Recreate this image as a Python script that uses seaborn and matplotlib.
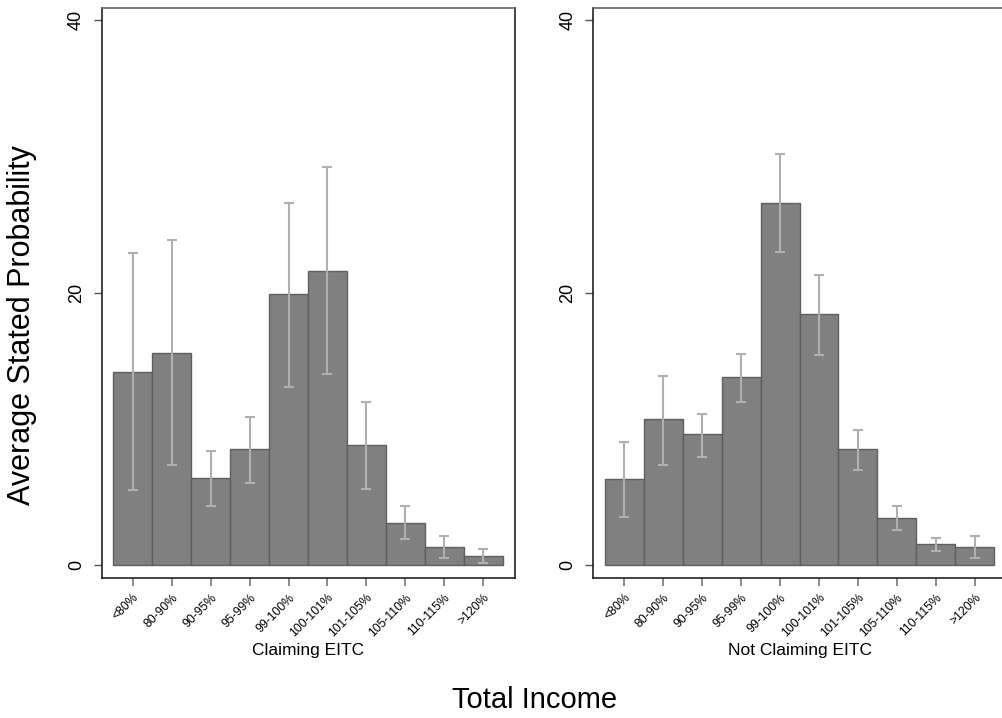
import numpy as np
import pandas as pd
import matplotlib
matplotlib.use("Agg")
import matplotlib.pyplot as plt
import seaborn as sns

categories = ["<80%", "80-90%", "90-95%", "95-99%", "99-100%", "100-101%",
              "101-105%", "105-110%", "110-115%", ">120%"]

claim_mean = [14.2, 15.6, 6.4, 8.5, 19.9, 21.6, 8.8, 3.1, 1.35, 0.7]
claim_lo = [5.5, 7.35, 4.3, 6.05, 13.1, 14.0, 5.6, 1.9, 0.55, 0.17]
claim_hi = [22.9, 23.9, 8.4, 10.9, 26.6, 29.2, 12.0, 4.3, 2.15, 1.2]

noclaim_mean = [6.3, 10.7, 9.6, 13.8, 26.6, 18.4, 8.5, 3.45, 1.55, 1.35]
noclaim_lo = [3.55, 7.35, 7.95, 12.0, 23.0, 15.4, 7.0, 2.6, 1.05, 0.55]
noclaim_hi = [9.05, 13.9, 11.1, 15.5, 30.2, 21.3, 9.9, 4.3, 2.0, 2.15]

panel_titles = ["Claiming EITC", "Not Claiming EITC"]
y_ticks = [0, 20, 40]

sns.set_theme(style="white")
plt.rcParams['font.family'] = ['Liberation Sans', 'DejaVu Sans']
plt.rcParams['text.color'] = 'black'
plt.rcParams['axes.labelcolor'] = 'black'
plt.rcParams['xtick.labelcolor'] = 'black'
plt.rcParams['ytick.labelcolor'] = 'black'

fig = plt.figure(figsize=(10.02, 7.18), dpi=100)
ax_w = 0.4125
ax_h = 0.7935
ax_b = 0.1954
axes = [fig.add_axes([0.1015, ax_b, ax_w, ax_h]),
        fig.add_axes([0.5921, ax_b, ax_w, ax_h])]

panels = [(claim_mean, claim_lo, claim_hi), (noclaim_mean, noclaim_lo, noclaim_hi)]

for ax, (means, lo, hi), title in zip(axes, panels, panel_titles):
    df = pd.DataFrame({"cat": categories, "val": means})
    sns.barplot(data=df, x="cat", y="val", order=categories, ax=ax,
                width=1.0, color="#808080", saturation=1,
                edgecolor="#5f5f5f", linewidth=1.0, errorbar=None)
    pos = np.arange(len(categories))
    m = np.array(means)
    yerr = np.vstack([m - np.array(lo), np.array(hi) - m])
    ax.errorbar(pos, m, yerr=yerr, fmt="none", ecolor="#b0b0b0",
                elinewidth=1.5, capsize=3.6, capthick=1.5, zorder=5)
    ax.set_xlim(-0.8, 9.82)
    ax.set_ylim(-0.93, 40.9)
    ax.set_yticks(y_ticks)
    ax.set_yticklabels([str(t) for t in y_ticks], rotation=90, va="center",
                       fontsize=13)
    ax.set_xticks(pos)
    ax.set_xticklabels(categories, rotation=45, ha="right",
                       rotation_mode="anchor", fontsize=8.8)
    ax.tick_params(axis="y", length=6, width=1, color="#555555", pad=6, left=True)
    ax.tick_params(axis="x", length=6, width=1.2, color="#777777", pad=4, bottom=True)
    ax.set_xlabel(title, fontsize=12.5, labelpad=2.5, color="black")
    ax.set_ylabel("")
    for s in ax.spines.values():
        s.set_visible(True)
        s.set_color("#222222")
        s.set_linewidth(1.2)
    ax.spines["top"].set_color("#666666")

fig.text(22 / 1002, 1 - 325 / 718, "Average Stated Probability", rotation=90,
         ha="center", va="center", fontsize=22, color="black")
fig.text(535 / 1002, 1 - 700 / 718, "Total Income", ha="center", va="center",
         fontsize=21, color="black")

fig.savefig("out.png", dpi=100)
